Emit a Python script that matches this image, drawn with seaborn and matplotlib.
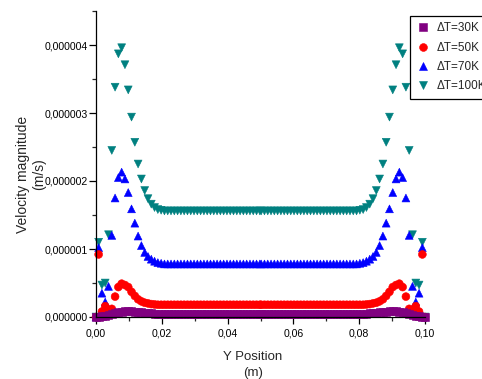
import numpy as np
import pandas as pd
import matplotlib
matplotlib.use("Agg")
import matplotlib.pyplot as plt
import matplotlib.ticker as mticker
import seaborn as sns

# velocity magnitude, left half of the channel (units of 1e-6 m/s)
# first value is the wall, then nodes at 0.0008, 0.0018, ... 0.0498 m
dt30 = [0, 0.003, 0.01, 0.02, 0.035, 0.05, 0.062, 0.072, 0.078, 0.082, 0.083,
        0.082, 0.079, 0.074, 0.068, 0.062, 0.057, 0.053, 0.05, 0.048, 0.046] + [0.045] * 30
dt50 = [0, 0.92, 0.08, 0.16, 0.07, 0.12, 0.30, 0.44, 0.49, 0.47, 0.44,
        0.37, 0.31, 0.26, 0.23, 0.21, 0.20, 0.19, 0.185, 0.18, 0.18] + [0.18] * 30
dt70 = [0, 1.02, 0.35, 0.22, 0.45, 1.20, 1.75, 2.05, 2.13, 2.03, 1.83,
        1.59, 1.38, 1.19, 1.05, 0.95, 0.89, 0.85, 0.82, 0.80, 0.79] + [0.78] * 30
dt100 = [0, 1.10, 0.47, 0.50, 1.21, 2.45, 3.38, 3.87, 3.96, 3.71, 3.34,
         2.94, 2.57, 2.25, 2.03, 1.86, 1.74, 1.66, 1.61, 1.58, 1.57] + [1.56] * 30

labels = ["ΔT=30K", "ΔT=50K", "ΔT=70K", "ΔT=100K"]
colors = ["#800080", "#ff0000", "#0000ff", "#008080"]
marks = ["s", "o", "^", "v"]

x_left = np.concatenate(([0.0], 0.0008 + 0.001 * np.arange(50)))

rows = []
# draw 100K first so the lower curves sit on top (as in the original)
for lab, vals in zip(labels[::-1], [dt100, dt70, dt50, dt30]):
    v = np.array(vals) * 1e-6
    xs = np.concatenate((x_left, 0.1 - x_left[::-1]))
    ys = np.concatenate((v, v[::-1]))
    rows.append(pd.DataFrame({"y": xs, "vel": ys, "case": lab}))
df = pd.concat(rows, ignore_index=True)

sns.set_style("ticks")
plt.rcParams["font.family"] = ["Liberation Sans", "DejaVu Sans"]

fig = plt.figure(figsize=(4.82, 3.79), dpi=100)
ax = fig.add_axes([96 / 482, 1 - 317 / 379, 329 / 482, 306 / 379])

sns.scatterplot(data=df, x="y", y="vel", hue="case", style="case",
                hue_order=labels, style_order=labels,
                palette=dict(zip(labels, colors)), markers=dict(zip(labels, marks)),
                s=32, edgecolor="face", linewidth=0.4, clip_on=False, ax=ax)

ax.set_xlim(0, 0.1)
ax.set_ylim(0, 4.5e-6)
ax.xaxis.set_major_locator(mticker.MultipleLocator(0.02))
ax.xaxis.set_minor_locator(mticker.MultipleLocator(0.01))
ax.yaxis.set_major_locator(mticker.MultipleLocator(1e-6))
ax.yaxis.set_minor_locator(mticker.MultipleLocator(0.5e-6))
ax.xaxis.set_major_formatter(mticker.FuncFormatter(lambda v, p: f"{v:.2f}".replace(".", ",")))
ax.yaxis.set_major_formatter(mticker.FuncFormatter(lambda v, p: f"{v:.6f}".replace(".", ",")))
ax.tick_params(which="major", direction="out", length=5, width=0.9, labelsize=7.6, pad=3, colors="black")
ax.tick_params(which="minor", direction="out", length=3, width=0.9)
ax.tick_params(axis="y", pad=1.2)
sns.despine(ax=ax)
for s in ["left", "bottom"]:
    ax.spines[s].set_linewidth(0.9)
    ax.spines[s].set_color("black")
ax.set_xlabel("")
ax.set_ylabel("")

fig.text(31 / 482, 1 - 174 / 379, "Velocity magnitude\n(m/s)", rotation=90,
         ha="center", va="center", multialignment="center", fontsize=10,
         linespacing=1.15)
fig.text(253 / 482, 1 - 365 / 379, "Y Position\n(m)", ha="center", va="center",
         multialignment="center", fontsize=9.5, linespacing=1.35)

handles, labs = ax.get_legend_handles_labels()
ax.get_legend().remove()
leg = fig.legend(handles, labs, loc="upper left", bbox_to_anchor=(410 / 482, 1 - 16 / 379),
                 frameon=True, fancybox=False, edgecolor="black", framealpha=1,
                 fontsize=8.5, borderpad=0.55, labelspacing=0.62, handlelength=1.1,
                 handletextpad=0.6, borderaxespad=0)
leg.get_frame().set_linewidth(0.9)

fig.savefig("out.png", dpi=100)
